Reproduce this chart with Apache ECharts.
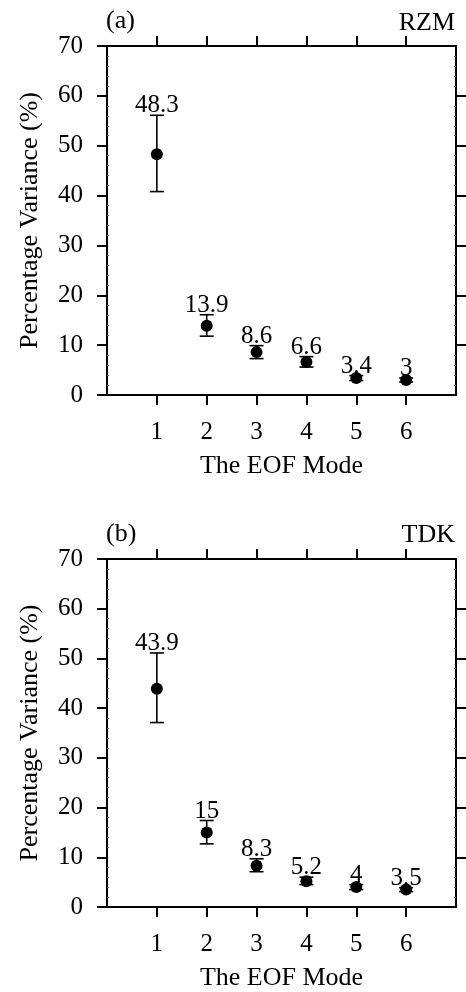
<!DOCTYPE html>
<html>
<head>
<meta charset="utf-8">
<script src="https://cdn.jsdelivr.net/npm/echarts@6/dist/echarts.min.js"></script>
<style>
  html, body { margin: 0; padding: 0; background: #fff; }
  #chart { width: 466px; height: 992px; }
</style>
</head>
<body>
<div id="chart"></div>
<script>
// data
var modes = [1, 2, 3, 4, 5, 6];
var rightTicks = [10, 20, 30, 40, 50, 60];

var rzmValues = [48.3, 13.9, 8.6, 6.6, 3.4, 3];
var rzmUpper = [56.1, 16.1, 9.9, 7.7, 3.9, 3.4];
var rzmLower = [40.8, 11.8, 7.3, 5.6, 2.9, 2.6];

var tdkValues = [43.9, 15, 8.3, 5.2, 4, 3.5];
var tdkUpper = [51.1, 17.4, 9.7, 6.0, 4.5, 3.9];
var tdkLower = [37.1, 12.7, 7.1, 4.5, 3.5, 3.1];

var panelLabels = ['(a)', '(b)'];
var panelNames = ['RZM', 'TDK'];

var FONT = '"Liberation Serif", "Times New Roman", serif';
var lineStyle = { color: '#000', width: 2 };

var chart = echarts.init(document.getElementById('chart'), null, { renderer: 'canvas' });

function xAxes(gridIndex) {
    var bottom = {
        type: 'value', gridIndex: gridIndex, position: 'bottom',
        min: 0, max: 7, interval: 1,
        name: 'The EOF Mode', nameLocation: 'middle', nameGap: 58,
        nameTextStyle: { fontFamily: FONT, fontSize: 26, color: '#000' },
        axisLine: { show: true, onZero: false, lineStyle: lineStyle },
        axisTick: { show: true, length: 10, lineStyle: lineStyle, customValues: modes },
        axisLabel: { show: true, margin: 25, fontFamily: FONT, fontSize: 25, color: '#000', customValues: modes },
        splitLine: { show: false }
    };
    var top = {
        type: 'value', gridIndex: gridIndex, position: 'top',
        min: 0, max: 7, interval: 1,
        axisLine: { show: true, onZero: false, lineStyle: lineStyle },
        axisTick: { show: true, length: 10, lineStyle: lineStyle, customValues: modes },
        axisLabel: { show: false },
        splitLine: { show: false }
    };
    return [bottom, top];
}

function yAxes(gridIndex) {
    var base = { type: 'value', gridIndex: gridIndex, min: 0, max: 70, interval: 10, splitLine: { show: false } };
    var left = Object.assign({}, base, {
        position: 'left',
        name: 'Percentage Variance (%)', nameLocation: 'middle', nameGap: 64,
        nameTextStyle: { fontFamily: FONT, fontSize: 26, color: '#000' },
        axisLine: { show: true, onZero: false, lineStyle: lineStyle },
        axisTick: { show: true, length: 10, lineStyle: lineStyle },
        axisLabel: { show: true, margin: 24, fontFamily: FONT, fontSize: 25, color: '#000' }
    });
    var right = Object.assign({}, base, {
        position: 'right',
        axisLine: { show: true, onZero: false, lineStyle: lineStyle },
        axisTick: { show: true, length: 10, lineStyle: lineStyle, customValues: rightTicks },
        axisLabel: { show: false }
    });
    // inner minor ticks on both sides
    var minor = { show: true, splitNumber: 5, length: 2, lineStyle: { color: '#666', width: 1 } };
    var leftMinor = Object.assign({}, base, {
        position: 'left',
        axisLine: { show: false, onZero: false }, axisTick: { show: false, inside: true },
        axisLabel: { show: false }, minorTick: minor
    });
    var rightMinor = Object.assign({}, base, {
        position: 'right',
        axisLine: { show: false, onZero: false }, axisTick: { show: false, inside: true },
        axisLabel: { show: false }, minorTick: minor
    });
    return [left, right, leftMinor, rightMinor];
}

function errorData(values, lower, upper) {
    return modes.map(function (m, i) { return [m, lower[i], upper[i], values[i]]; });
}

function pointData(values) {
    return modes.map(function (m, i) { return [m, values[i]]; });
}

function renderErrorBar(params, api) {
    var x = api.value(0);
    var lo = api.coord([x, api.value(1)]);
    var hi = api.coord([x, api.value(2)]);
    var cap = 7;
    var style = { stroke: '#000', lineWidth: 1.6 };
    return {
        type: 'group',
        children: [
            { type: 'line', shape: { x1: lo[0], y1: lo[1], x2: hi[0], y2: hi[1] }, style: style },
            { type: 'line', shape: { x1: hi[0] - cap, y1: hi[1], x2: hi[0] + cap, y2: hi[1] }, style: style },
            { type: 'line', shape: { x1: lo[0] - cap, y1: lo[1], x2: lo[0] + cap, y2: lo[1] }, style: style },
            {
                type: 'text', x: hi[0], y: hi[1] + 3,
                style: {
                    text: String(api.value(3)), fill: '#000',
                    font: '25px ' + FONT, align: 'center', verticalAlign: 'bottom'
                }
            }
        ]
    };
}

function panelSeries(gridIndex, values, lower, upper) {
    var xi = gridIndex * 2;
    var yi = gridIndex * 4;
    return [
        {
            type: 'custom', xAxisIndex: xi, yAxisIndex: yi,
            renderItem: renderErrorBar,
            encode: { x: 0, y: [1, 2] },
            data: errorData(values, lower, upper),
            z: 2
        },
        {
            type: 'scatter', xAxisIndex: xi, yAxisIndex: yi,
            symbol: 'circle', symbolSize: 12,
            itemStyle: { color: '#000', opacity: 1 },
            data: pointData(values),
            z: 3
        }
    ];
}

var titleStyle = { fontFamily: FONT, fontSize: 26, fontWeight: 'normal', color: '#000' };

var option = {
    backgroundColor: '#fff',
    animation: false,
    title: [
        { text: panelLabels[0], left: 106, top: 8, textStyle: titleStyle, padding: 0 },
        { text: panelNames[0], right: 11, top: 10, textStyle: titleStyle, padding: 0 },
        { text: panelLabels[1], left: 106, top: 521, textStyle: titleStyle, padding: 0 },
        { text: panelNames[1], right: 11, top: 522, textStyle: titleStyle, padding: 0 }
    ],
    grid: [
        { left: 107, right: 10, top: 46, height: 349 },
        { left: 107, right: 10, top: 559, height: 349 }
    ],
    xAxis: xAxes(0).concat(xAxes(1)),
    yAxis: yAxes(0).concat(yAxes(1)),
    series: panelSeries(0, rzmValues, rzmLower, rzmUpper)
        .concat(panelSeries(1, tdkValues, tdkLower, tdkUpper))
};

chart.setOption(option);
window.addEventListener('resize', chart.resize);
</script>
</body>
</html>
